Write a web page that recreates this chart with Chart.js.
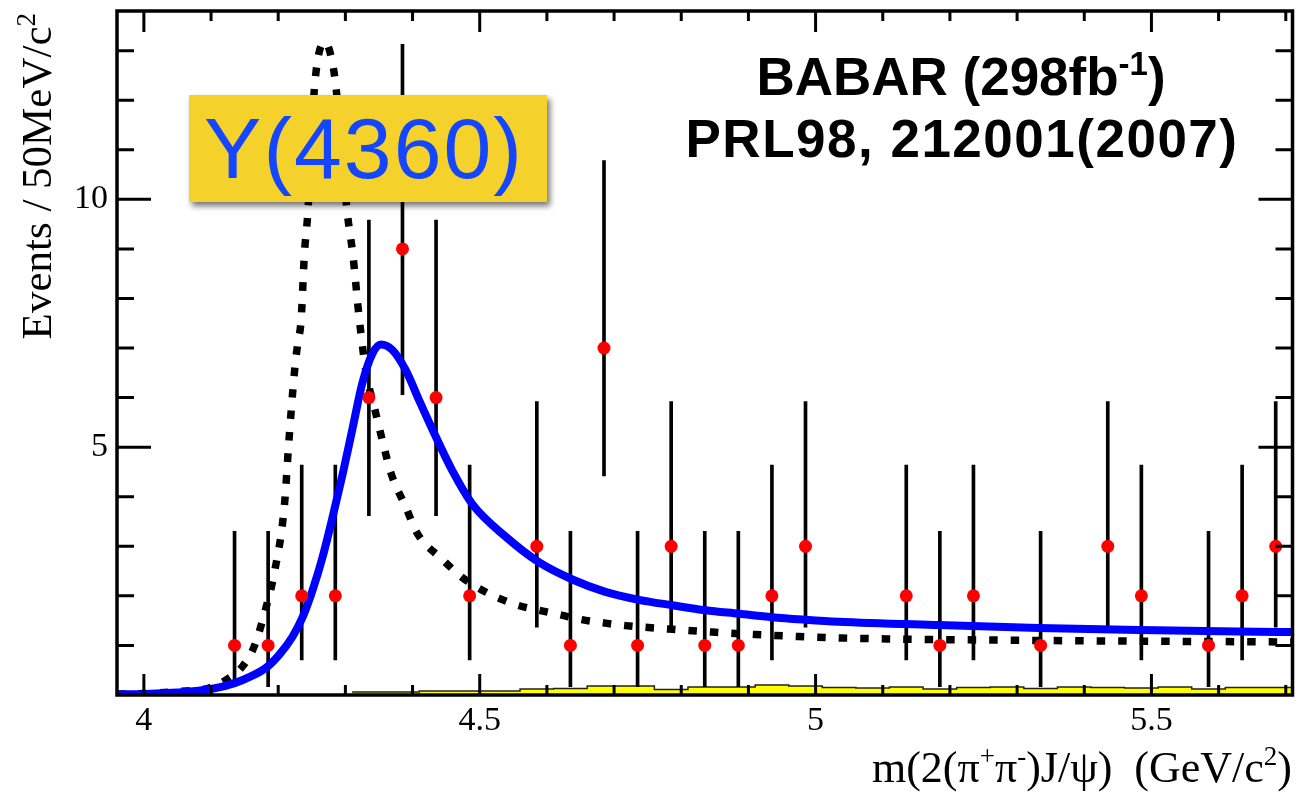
<!DOCTYPE html>
<html>
<head>
<meta charset="utf-8">
<script src="https://cdn.jsdelivr.net/npm/chart.js@4.4.0/dist/chart.umd.min.js"></script>
<style>
  html, body { margin:0; padding:0; background:#fff; }
  #wrap { width:1299px; height:799px; }
</style>
</head>
<body>
<div id="wrap"><canvas id="c" width="1299" height="799"></canvas></div>
<script>
/* ========== DATA ========== */
// bin centres (50 MeV bins), event counts and asymmetric error bar ends
const binX   = [4.135, 4.185, 4.235, 4.285, 4.335, 4.385, 4.435, 4.485, 4.585, 4.635, 4.685, 4.735, 4.785,
                4.835, 4.885, 4.935, 4.985, 5.135, 5.185, 5.235, 5.335, 5.435, 5.485, 5.585, 5.635, 5.685];
const counts = [1, 1, 2, 2, 6, 9, 6, 2, 3, 1, 7, 1, 3, 1, 1, 2, 3, 2, 1, 2, 1, 3, 2, 1, 2, 3];
const errLo  = [0.17, 0.17, 0.71, 0.71, 3.62, 6.06, 3.62, 0.71, 1.37, 0.17, 4.42, 0.17, 1.37,
                0.17, 0.17, 0.71, 1.37, 0.71, 0.17, 0.71, 0.17, 1.37, 0.71, 0.17, 0.71, 1.37];
const errHi  = [3.30, 3.30, 4.64, 4.64, 9.58, 13.13, 9.58, 4.64, 5.92, 3.30, 10.78, 3.30, 5.92,
                3.30, 3.30, 4.64, 5.92, 4.64, 3.30, 4.64, 3.30, 5.92, 4.64, 3.30, 4.64, 5.92];

// fit (solid blue)
const fitX = [3.96, 4.00, 4.05, 4.10, 4.135, 4.16, 4.182, 4.202, 4.221, 4.236, 4.251, 4.266, 4.281, 4.296, 4.311,
              4.325, 4.340, 4.353, 4.370, 4.390, 4.410, 4.435, 4.459, 4.489, 4.539, 4.588, 4.638, 4.687,
              4.737, 4.787, 4.836, 4.886, 4.935, 4.985, 5.034, 5.183, 5.332, 5.481, 5.629, 5.71];
const fitY = [0.01, 0.02, 0.05, 0.12, 0.24, 0.38, 0.55, 0.82, 1.17, 1.56, 2.11, 2.78, 3.59, 4.46, 5.40,
              6.28, 6.88, 7.07, 6.96, 6.55, 5.94, 5.20, 4.53, 3.85, 3.19, 2.68, 2.33, 2.08,
              1.92, 1.81, 1.71, 1.64, 1.57, 1.52, 1.48, 1.41, 1.35, 1.31, 1.28, 1.27];

// dotted reference curve
const refX = [3.96, 4.00, 4.05, 4.097, 4.122, 4.147, 4.164, 4.182, 4.194, 4.209, 4.216, 4.224, 4.229, 4.234,
              4.239, 4.244, 4.254, 4.270, 4.281, 4.286, 4.303, 4.311, 4.321, 4.331, 4.343, 4.355, 4.368,
              4.390, 4.407, 4.444, 4.474, 4.499, 4.529, 4.559, 4.588, 4.622, 4.652, 4.687, 4.717, 4.782,
              4.846, 4.911, 4.975, 5.039, 5.332, 5.71];
const refY = [0.02, 0.03, 0.07, 0.14, 0.30, 0.58, 0.97, 1.77, 2.45, 3.79, 5.14, 6.49, 7.09, 7.55,
              8.90, 9.71, 12.26, 13.17, 12.73, 12.26, 9.71, 8.90, 7.55, 6.49, 5.81, 5.14, 4.47,
              3.79, 3.26, 2.74, 2.37, 2.15, 1.95, 1.80, 1.71, 1.61, 1.52, 1.45, 1.40, 1.33,
              1.27, 1.22, 1.18, 1.15, 1.10, 1.07];

// background histogram (yellow), bin edges and contents
const bgEdge = [4.31, 4.36, 4.41, 4.46, 4.51, 4.56, 4.61, 4.66, 4.71, 4.76, 4.81, 4.86, 4.91, 4.96, 5.01,
                5.06, 5.11, 5.16, 5.21, 5.26, 5.31, 5.36, 5.41, 5.46, 5.51, 5.56, 5.61, 5.66, 5.71];
const bgVal  = [0.06, 0.06, 0.06, 0.08, 0.08, 0.08, 0.12, 0.13, 0.18, 0.18, 0.11, 0.16, 0.16, 0.20,
                0.18, 0.15, 0.14, 0.16, 0.12, 0.15, 0.16, 0.13, 0.16, 0.15, 0.14, 0.16, 0.12, 0.15];

const xMajor = [4, 4.5, 5, 5.5];
const yMajor = [5, 10];
const X_MIN = 3.96, X_MAX = 5.71, Y_MIN = 0, Y_MAX = 13.8;

const SERIF = '"Liberation Serif", "Times New Roman", serif';
const SANS  = '"Liberation Sans", Arial, Helvetica, sans-serif';

/* ========== TEXT HELPERS ========== */
// parts: [[text, isSup], ...]
function richWidth(ctx, parts, size, fam, weight) {
  let w = 0;
  parts.forEach(([t, sup]) => {
    ctx.font = `${weight} ${sup ? Math.round(size*0.62) : size}px ${fam}`;
    w += ctx.measureText(t).width;
  });
  return w;
}
function drawRich(ctx, parts, x, y, align, size, fam, weight) {
  const w = richWidth(ctx, parts, size, fam, weight);
  let cx = align === 'right' ? x - w : align === 'center' ? x - w/2 : x;
  ctx.textAlign = 'left';
  ctx.textBaseline = 'alphabetic';
  parts.forEach(([t, sup]) => {
    const s = sup ? Math.round(size*0.62) : size;
    ctx.font = `${weight} ${s}px ${fam}`;
    ctx.fillText(t, cx, sup ? y - size*0.38 : y);
    cx += ctx.measureText(t).width;
  });
}

/* ========== FRAME / TICKS / TITLES ========== */
const decorPlugin = {
  id: 'decor',
  afterDraw(chart) {
    const ctx = chart.ctx;
    const {left, right, top, bottom} = chart.chartArea;
    const xs = chart.scales.x, ys = chart.scales.y;
    ctx.save();
    ctx.strokeStyle = '#000';
    ctx.fillStyle = '#000';

    // inward ticks, mirrored on top / right
    ctx.lineWidth = 3;
    ctx.beginPath();
    for (let k = 40; k <= 57; k++) {
      const px = xs.getPixelForValue(k / 10);
      const len = (k % 5 === 0) ? 21 : 10;
      ctx.moveTo(px, bottom); ctx.lineTo(px, bottom - len);
      ctx.moveTo(px, top);    ctx.lineTo(px, top + len);
    }
    for (let v = 1; v <= 13; v++) {
      const py = ys.getPixelForValue(v);
      const len = (v % 5 === 0) ? 34 : 17;
      ctx.moveTo(left, py);  ctx.lineTo(left + len, py);
      ctx.moveTo(right, py); ctx.lineTo(right - len, py);
    }
    ctx.stroke();

    // frame
    ctx.lineWidth = 3.5;
    ctx.strokeRect(left, top, right - left, bottom - top);

    // axis titles
    drawRich(ctx, [['m(2(\u03C0', false], ['+', true], ['\u03C0', false], ['-', true], [')J/\u03C8)  (GeV/c', false], ['2', true], [')', false]],
             1292, 782, 'right', 44, SERIF, 'normal');
    ctx.save();
    ctx.translate(51, 13);
    ctx.rotate(-Math.PI / 2);
    drawRich(ctx, [['Events / 50MeV/c', false], ['2', true]], 0, 0, 'right', 43, SERIF, 'normal');
    ctx.restore();

    // experiment label
    drawRich(ctx, [['BABAR (298fb', false], ['-1', true], [')', false]], 961, 95, 'center', 53, SANS, 'bold');
    ctx.letterSpacing = '1.5px';
    drawRich(ctx, [['PRL98, 212001(2007)', false]], 962, 157, 'center', 53, SANS, 'bold');
    ctx.letterSpacing = '0px';

    // Y(4360) tag with shadow
    ctx.save();
    ctx.shadowColor = 'rgba(0,0,0,0.55)';
    ctx.shadowBlur = 6;
    ctx.shadowOffsetX = 3;
    ctx.shadowOffsetY = 4;
    ctx.fillStyle = '#f5d22b';
    ctx.fillRect(189, 95, 358, 107);
    ctx.restore();
    ctx.fillStyle = '#1446ff';
    ctx.font = `normal 86px ${SANS}`;
    ctx.textAlign = 'center';
    ctx.textBaseline = 'alphabetic';
    ctx.letterSpacing = '2px';
    ctx.fillText('Y(4360)', 364, 178);
    ctx.letterSpacing = '0px';

    ctx.restore();
  }
};

/* ========== CHART ========== */
const ctx = document.getElementById('c');
new Chart(ctx, {
  type: 'scatter',
  data: {
    datasets: [
      { type:'scatter', data: binX.map((x,i)=>({x, y:counts[i]})),
        pointRadius:6.5, pointBackgroundColor:'#ff0000', pointBorderWidth:0, order:0 },
      { type:'line', data: fitX.map((x,i)=>({x, y:fitY[i]})),
        borderColor:'#0000ff', borderWidth:8, pointRadius:0, fill:false,
        cubicInterpolationMode:'monotone', order:1 },
      { type:'line', data: refX.map((x,i)=>({x, y:refY[i]})),
        borderColor:'#000', borderWidth:7.5, borderDash:[8.5, 13], borderCapStyle:'butt',
        pointRadius:0, fill:false, cubicInterpolationMode:'monotone', order:2 },
      { type:'bar', data: binX.map((x,i)=>({x, y:[errLo[i], errHi[i]]})),
        backgroundColor:'#000', barThickness:3, grouped:false, order:3 },
      { type:'line', data: bgEdge.map((x,i)=>({x, y:bgVal[Math.min(i, bgVal.length-1)]})),
        stepped:'after', fill:'origin', backgroundColor:'#ffff00', borderColor:'#222',
        borderWidth:1.5, pointRadius:0, order:4 }
    ]
  },
  options: {
    responsive:false, animation:false, devicePixelRatio:1, events:[],
    layout: { padding: { top:11, right:6, left:0, bottom:0 } },
    plugins: { legend:{display:false}, tooltip:{enabled:false} },
    scales: {
      x: { type:'linear', min:X_MIN, max:X_MAX, offset:false,
           grid:{display:false, drawTicks:false, offset:false}, border:{display:false},
           afterBuildTicks: s => { s.ticks = xMajor.map(v => ({value:v})); },
           afterFit: s => { s.height = 104; s.paddingLeft = 0; s.paddingRight = 0; },
           ticks:{ font:{family:SERIF, size:34}, color:'#000', padding:6, maxRotation:0, autoSkip:false,
                   callback: v => String(v) } },
      y: { type:'linear', min:Y_MIN, max:Y_MAX, offset:false,
           grid:{display:false, drawTicks:false}, border:{display:false},
           afterBuildTicks: s => { s.ticks = yMajor.map(v => ({value:v})); },
           afterFit: s => { s.width = 117; s.paddingTop = 0; s.paddingBottom = 0; },
           ticks:{ font:{family:SERIF, size:34}, color:'#000', padding:9, autoSkip:false,
                   callback: v => String(v) } }
    }
  },
  plugins: [decorPlugin]
});
</script>
</body>
</html>
